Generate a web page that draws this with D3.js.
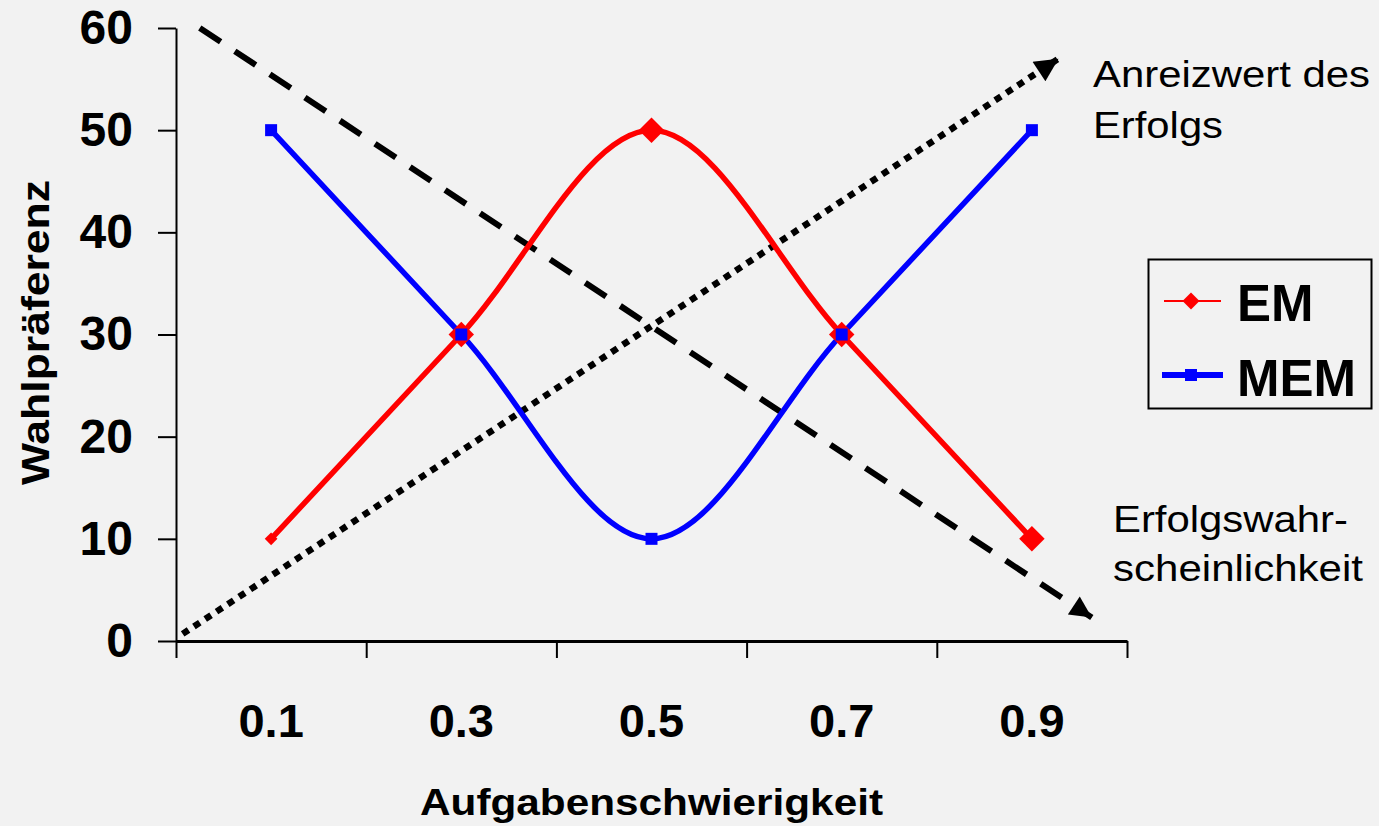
<!DOCTYPE html>
<html>
<head>
<meta charset="utf-8">
<script src="https://cdn.jsdelivr.net/npm/d3@7"></script>
<style>
  html, body { margin: 0; padding: 0; background: #f2f2f2; }
  svg { display: block; font-family: "Liberation Sans", Arial, sans-serif; }
</style>
</head>
<body>
<div class="chart"></div>
<script>
// task difficulty categories and the two motive curves
var categories = ['0.1', '0.3', '0.5', '0.7', '0.9'];
var emValues = [10, 30, 50, 30, 10];
var memValues = [50, 30, 10, 30, 50];
var yTicks = [0, 10, 20, 30, 40, 50, 60];

// annotation arrows, [difficulty, value]
var anreizLine = [[0.007, 0.7], [0.928, 57]];
var erfolgLine = [[0.025, 60], [0.963, 2.3]];

var width = 1379, height = 826;
var plot = { left: 176, right: 1127, top: 28, bottom: 641 };

var svg = d3.select('.chart').append('svg').attr('width', width).attr('height', height);

var xBand = d3.scaleBand().domain(categories).range([plot.left, plot.right]);
var xLin = d3.scaleLinear().domain([0, 1]).range([plot.left, plot.right]);
var y = d3.scaleLinear().domain([0, 60]).range([plot.bottom, plot.top]);

var cx = function(i) { return xBand(categories[i]) + xBand.bandwidth() / 2; };

svg.append('defs').append('marker')
	.attr('id', 'arrow')
	.attr('viewBox', '0 0 10 10')
	.attr('refX', 10).attr('refY', 5)
	.attr('markerWidth', 3.8).attr('markerHeight', 3.6)
	.attr('markerUnits', 'strokeWidth')
	.attr('orient', 'auto')
	.append('path').attr('d', 'M0,0L10,5L0,10Z').attr('fill', '#000');

// y axis
var yAxis = svg.append('g')
	.attr('transform', 'translate(' + plot.left + ',0)')
	.call(d3.axisLeft(y).tickValues(yTicks).tickSize(18).tickPadding(25).tickSizeOuter(0));
yAxis.select('.domain').attr('stroke', '#000').attr('stroke-width', 2);
yAxis.selectAll('line').attr('stroke-width', 2);
yAxis.selectAll('text').style('font-size', '48px').style('font-weight', 'bold').attr('fill', '#000');

// x axis: tick marks between categories
var xTicks = svg.append('g')
	.attr('transform', 'translate(0,' + plot.bottom + ')')
	.call(d3.axisBottom(xLin).tickValues([0, 0.2, 0.4, 0.6, 0.8, 1]).tickSize(17).tickSizeOuter(0).tickFormat(''));
xTicks.select('.domain').attr('stroke', '#000').attr('stroke-width', 3);
xTicks.selectAll('line').attr('stroke-width', 2);

var xLabels = svg.append('g')
	.attr('transform', 'translate(0,' + plot.bottom + ')')
	.call(d3.axisBottom(xBand).tickSize(0).tickPadding(63));
xLabels.select('.domain').remove();
xLabels.selectAll('text').style('font-size', '47px').style('font-weight', 'bold').attr('fill', '#000');

// axis titles
svg.append('text')
	.attr('x', 420).attr('y', 815)
	.attr('textLength', 463).attr('lengthAdjust', 'spacingAndGlyphs')
	.style('font-size', '37px').style('font-weight', 'bold')
	.text('Aufgabenschwierigkeit');

svg.append('text')
	.attr('transform', 'translate(49,485) rotate(-90)')
	.attr('textLength', 305).attr('lengthAdjust', 'spacingAndGlyphs')
	.style('font-size', '39px').style('font-weight', 'bold')
	.text('Wahlpräferenz');

// annotation arrows
var arrowLine = d3.line().x(function(d) { return xLin(d[0]); }).y(function(d) { return y(d[1]); });

svg.append('path')
	.attr('d', arrowLine(erfolgLine))
	.attr('fill', 'none').attr('stroke', '#000').attr('stroke-width', 6)
	.attr('stroke-dasharray', '25,17')
	.attr('marker-end', 'url(#arrow)');

svg.append('path')
	.attr('d', arrowLine(anreizLine))
	.attr('fill', 'none').attr('stroke', '#000').attr('stroke-width', 6.5)
	.attr('stroke-dasharray', '7,6.5')
	.attr('marker-end', 'url(#arrow)');

// series lines
var curve = d3.line().x(function(d, i) { return cx(i); }).y(function(d) { return y(d); }).curve(d3.curveMonotoneX);

svg.append('path').attr('d', curve(emValues))
	.attr('fill', 'none').attr('stroke', '#ff0000').attr('stroke-width', 5.5);
svg.append('path').attr('d', curve(memValues))
	.attr('fill', 'none').attr('stroke', '#0000ff').attr('stroke-width', 5.5);

// markers
svg.selectAll('.em-mark').data(emValues).enter().append('rect')
	.attr('class', 'em-mark')
	.each(function(d, i) {
		var s = i === 0 ? 9 : 18;
		d3.select(this)
			.attr('x', -s / 2).attr('y', -s / 2).attr('width', s).attr('height', s)
			.attr('transform', 'translate(' + cx(i) + ',' + y(d) + ') rotate(45)');
	})
	.attr('fill', '#ff0000');

svg.selectAll('.mem-mark').data(memValues).enter().append('rect')
	.attr('class', 'mem-mark')
	.attr('x', function(d, i) { return cx(i) - 6; })
	.attr('y', function(d) { return y(d) - 6; })
	.attr('width', 12).attr('height', 12)
	.attr('fill', '#0000ff');

// annotation labels
var note = function(x, yPos, len, txt) {
	svg.append('text').attr('x', x).attr('y', yPos)
		.attr('textLength', len).attr('lengthAdjust', 'spacingAndGlyphs')
		.style('font-size', '37px').attr('fill', '#000').text(txt);
};
note(1093, 87, 277, 'Anreizwert des');
note(1093, 138, 130, 'Erfolgs');
note(1113, 532, 235, 'Erfolgswahr-');
note(1113, 581, 250, 'scheinlichkeit');

// legend
var legend = svg.append('g');
legend.append('rect')
	.attr('x', 1148.5).attr('y', 259.5).attr('width', 223).attr('height', 149)
	.attr('fill', 'none').attr('stroke', '#000').attr('stroke-width', 2);

legend.append('line').attr('x1', 1164).attr('x2', 1221).attr('y1', 301).attr('y2', 301)
	.attr('stroke', '#ff0000').attr('stroke-width', 2);
legend.append('rect').attr('x', -6).attr('y', -6).attr('width', 12).attr('height', 12)
	.attr('transform', 'translate(1191,301) rotate(45)').attr('fill', '#ff0000');
legend.append('text').attr('x', 1237).attr('y', 321)
	.style('font-size', '51px').style('font-weight', 'bold').text('EM');

legend.append('line').attr('x1', 1162).attr('x2', 1223).attr('y1', 375).attr('y2', 375)
	.attr('stroke', '#0000ff').attr('stroke-width', 6);
legend.append('rect').attr('x', 1185).attr('y', 369).attr('width', 12).attr('height', 12)
	.attr('fill', '#0000ff');
legend.append('text').attr('x', 1237).attr('y', 396)
	.style('font-size', '51px').style('font-weight', 'bold').text('MEM');
</script>
</body>
</html>
